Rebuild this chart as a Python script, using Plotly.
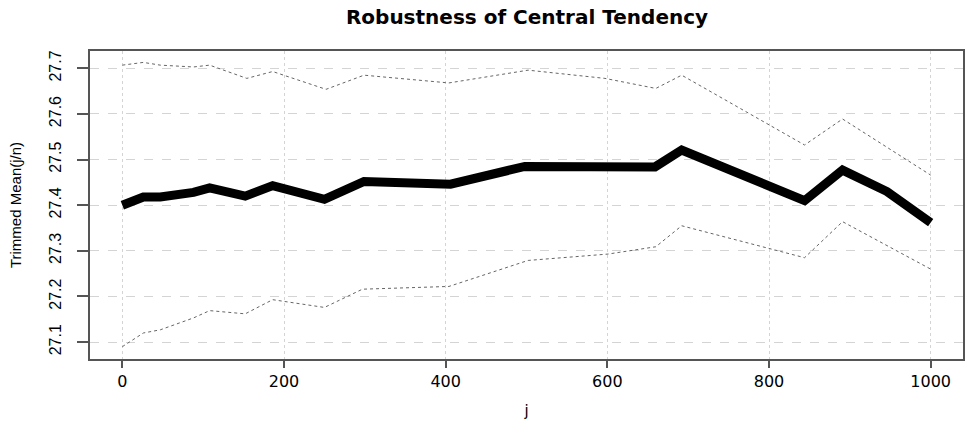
import plotly.graph_objects as go

# Main trimmed-mean series
j_mean = [0, 26, 47, 88, 108, 152, 186, 250, 299, 379, 406, 498, 601, 659, 692, 844, 891, 946, 1000]
mean_vals = [27.400, 27.418, 27.418, 27.428, 27.438, 27.420, 27.443, 27.413, 27.452, 27.446, 27.446,
             27.485, 27.484, 27.484, 27.521, 27.410, 27.477, 27.430, 27.362]

# Upper bound (dotted)
j_upper = [0, 26, 47, 88, 108, 154, 186, 252, 299, 404, 502, 597, 660, 692, 844, 891, 1000]
upper_vals = [27.707, 27.713, 27.707, 27.703, 27.707, 27.678, 27.693, 27.654, 27.685, 27.668, 27.696,
              27.678, 27.656, 27.685, 27.532, 27.589, 27.466]

# Lower bound (dotted)
j_lower = [0, 26, 47, 88, 108, 152, 186, 250, 297, 404, 502, 601, 660, 692, 844, 891, 1000]
lower_vals = [27.090, 27.120, 27.127, 27.153, 27.169, 27.162, 27.193, 27.176, 27.216, 27.222, 27.279,
              27.293, 27.309, 27.355, 27.285, 27.364, 27.260]

x_ticks = [0, 200, 400, 600, 800, 1000]
y_ticks = [27.1, 27.2, 27.3, 27.4, 27.5, 27.6, 27.7]

fig = go.Figure()
fig.add_trace(go.Scatter(x=j_upper, y=upper_vals, mode="lines",
                         line=dict(color="#666666", width=1, dash="dot"), showlegend=False))
fig.add_trace(go.Scatter(x=j_lower, y=lower_vals, mode="lines",
                         line=dict(color="#666666", width=1, dash="dot"), showlegend=False))
fig.add_trace(go.Scatter(x=j_mean, y=mean_vals, mode="lines",
                         line=dict(color="black", width=9), showlegend=False))

fig.update_layout(
    width=967, height=424,
    margin=dict(l=90, r=2, t=51, b=65),
    plot_bgcolor="white", paper_bgcolor="white",
    title=dict(text="<b>Robustness of Central Tendency</b>", x=0.545, xanchor="center",
               y=0.96, yanchor="middle",
               font=dict(family="DejaVu Sans", size=20, color="black")),
    xaxis=dict(range=[-40, 1040], tickvals=x_ticks, ticktext=[str(v) for v in x_ticks],
               showgrid=True, gridcolor="#d4d4d4", griddash="dot", gridwidth=1,
               zeroline=False, showline=True, linecolor="#555555", linewidth=1.5, mirror=True,
               ticks="outside", ticklen=7, tickcolor="#555555", tickwidth=1.5,
               tickfont=dict(family="DejaVu Sans", size=16, color="black"),
               title=dict(text="j", standoff=16,
                          font=dict(family="DejaVu Sans", size=15, color="black"))),
    yaxis=dict(range=[27.063, 27.738], tickvals=y_ticks, ticktext=[f"{v:.1f}" for v in y_ticks],
               showgrid=True, gridcolor="#d4d4d4", griddash="dash", gridwidth=1,
               zeroline=False, showline=True, linecolor="#555555", linewidth=1.5, mirror=True,
               ticks="outside", ticklen=11, tickcolor="#555555", tickwidth=1.5, tickangle=-90,
               ticklabelstandoff=10,
               tickfont=dict(family="Liberation Sans", size=16, color="black"),
               title=dict(text="Trimmed Mean(j/n)", standoff=22,
                          font=dict(family="Liberation Sans", size=15, color="black"))),
)

fig.write_html("out.html")
